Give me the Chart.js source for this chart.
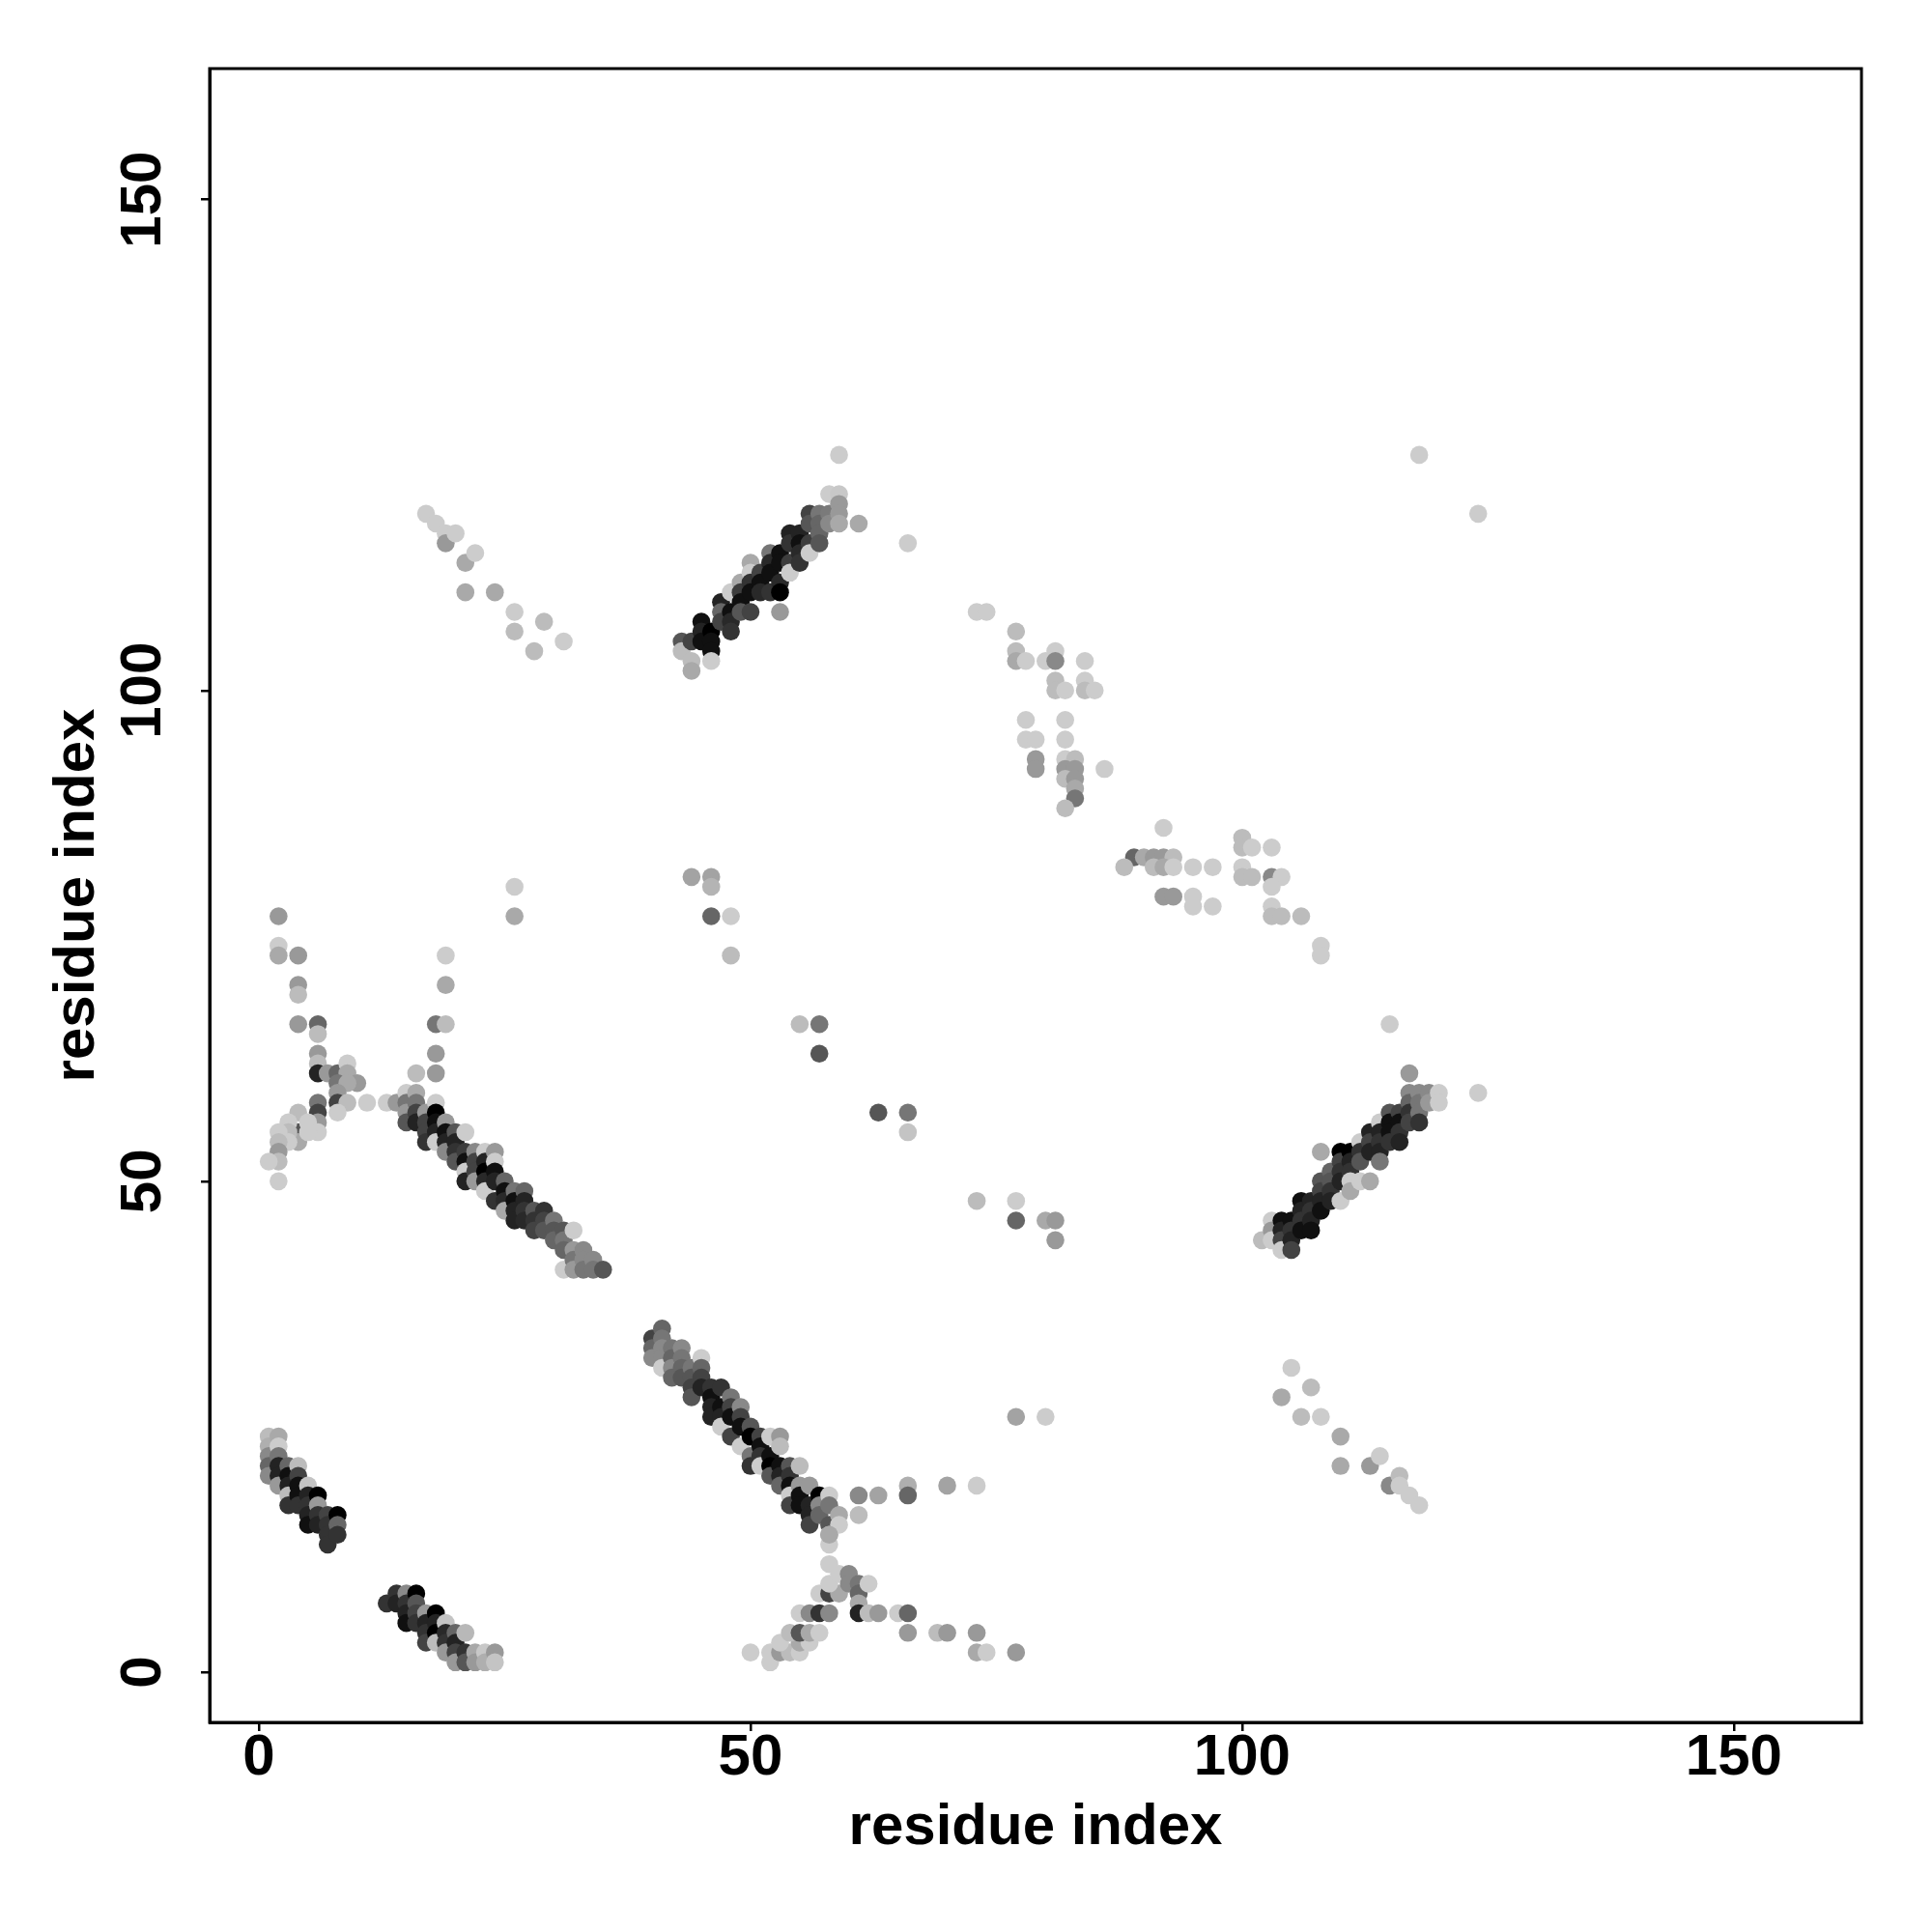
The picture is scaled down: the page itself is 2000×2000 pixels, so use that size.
<!DOCTYPE html>
<html><head><meta charset="utf-8">
<script src="https://cdn.jsdelivr.net/npm/chart.js@4.4.1/dist/chart.umd.min.js"></script>
<style>html,body{margin:0;padding:0;background:#fff}#wrap{width:2000px;height:2000px}</style>
</head><body><div id="wrap"><canvas id="c" width="2000" height="2000"></canvas></div>
<script>
// tick labels and titles
const axisTicks = [0, 50, 100, 150];
const axisTitle = 'residue index';

// contacts: [residue i, residue j, score 0..1 (1 = darkest)]
const bandA = [[1,24,0.08],[1,23,0.14],[1,22,0.33],[1,21,0.5],[1,20,0.33],
 [2,24,0.17],[2,23,0],[2,22,0.42],[2,21,0.83],[2,20,0.83],[2,19,0.25],
 [3,21,0.5],[3,20,0.92],[3,19,0.83],[3,18,0.08],[3,17,0.75],
 [4,21,0.08],[4,20,0.67],[4,19,0.92],[4,18,0.92],[4,17,0.75],
 [5,19,0.04],[5,18,0.83],[5,17,0.75],[5,16,0.83],[5,15,0.92],
 [6,18,1],[6,17,0.25],[6,16,0.75],[6,15,0.83],
 [7,16,0.67],[7,15,0.75],[7,14,0.75],[7,13,0.75],
 [8,16,1],[8,15,0.5],[8,14,0.75]];

const bandB = [[13,7,0.75],[14,8,0.75],[14,7,0.83],
 [15,8,0.33],[15,7,0.75],[15,6,0.83],[15,5,0.92],
 [16,8,1],[16,7,0.58],[16,6,0.67],[16,5,0.75],
 [17,6,0.25],[17,5,0.83],[17,4,0.75],[17,3,0.67],
 [18,6,1],[18,5,0.83],[18,4,1],[18,3,0.08],
 [19,5,0.04],[19,4,0.8],[19,3,0.75],[19,2,0.25],
 [20,4,0.5],[20,3,0.83],[20,2,0.67],[20,1,0.25],
 [21,4,0.1],[21,2,0.75],[21,1,0.58],
 [22,2,0.17],[22,1,0.25],[23,2,0.02],[23,1,0.14],[24,2,0.25],[24,1,0.04]];

const leftCluster = [[2,77,0.25],[2,74,0],[2,73,0.17],[4,73,0.25],[4,70,0.25],[4,69,0.08],
 [4,66,0.25],[6,66,0.5],[6,65,0.08],[6,63,0.25],[6,62,0.08],[6,61,0.83],[7,61,0.25],[8,61,0.5],
 [9,62,0],[9,61,0.17],[10,60,0.25],[8,60,0.42],[9,60,0.17],[8,59,0.25],[8,58,0.67],[9,58,0.08],
 [8,57,0],[11,58,0],[6,58,0.42],[6,57,0.67],[6,56,0.25],[6,55,0],[4,57,0.08],[4,55,0.58],
 [4,54,0.17],[3,56,0],[5,56,0],[5,55,0],[3,55,0.08],[3,54,0],[2,55,0],[2,54,0.08],[2,53,0.25],
 [2,52,0.08],[1,52,0],[2,50,0]];

const upperLeftCol = [[19,73,0],[19,70,0.17],[18,66,0.42],[19,66,0.08],[18,63,0.25],[18,61,0.25],
 [16,61,0.08],[26,80,0],[26,77,0.17]];

const bandC = [[13,58,0],[14,58,0.25],
 [15,59,0],[15,58,0.42],[15,57,0.25],[15,56,0.58],
 [16,59,0.17],[16,58,0.42],[16,57,0.67],[16,56,0.83],
 [17,57,0.25],[17,56,0.67],[17,55,0.67],[17,54,0.75],
 [18,58,0],[18,57,1],[18,56,0.92],[18,55,0.83],[18,54,0],
 [19,56,0.25],[19,55,0.92],[19,54,0.83],[19,53,0.33],
 [20,55,0.58],[20,54,0.83],[20,53,0.75],[20,52,0.58],
 [21,55,0],[21,53,0.7],[21,52,0.92],[21,51,0],[21,50,0.83],
 [22,53,0.33],[22,52,0.67],[22,51,0.67],[22,50,0.25],
 [23,53,0],[23,52,0.83],[23,51,1],[23,50,0.8],[23,49,0],
 [24,53,0.25],[24,52,0],[24,51,0.92],[24,50,0.83],[24,48,0.75],
 [25,50,0.5],[25,49,0.92],[25,48,0.8],[25,47,0.17],
 [26,49,0.42],[26,48,0.92],[26,47,0.83],[26,46,0.83],
 [27,49,0.5],[27,48,0.83],[27,47,0.75],[27,46,0.8],
 [28,47,0.58],[28,46,0.75],[28,45,0.67],
 [29,47,0.75],[29,46,0.67],[29,45,0.58],
 [30,46,0.42],[30,45,0.58],[30,44,0.5],
 [31,45,0.58],[31,44,0.42],[31,43,0.5],[31,41,0],
 [32,45,0],[32,43,0.25],[32,42,0.42],[32,41,0.25],
 [33,43,0.33],[33,42,0.33],[33,41,0.42],
 [34,42,0.33],[34,41,0.42],[35,41,0.58]];

const bandD = [[40,34,0.67],[40,33,0.5],[40,32,0.33],
 [41,35,0.5],[41,34,0.42],[41,33,0.33],[41,32,0.33],[41,31,0],
 [42,33,0.42],[42,32,0.5],[42,31,0.33],[42,30,0.5],
 [43,33,0.33],[43,32,0.42],[43,31,0.5],[43,30,0.58],
 [44,31,0.42],[44,30,0.58],[44,29,0.67],[44,28,0.58],
 [45,32,0],[45,31,0.5],[45,30,0.67],[45,29,0.83],
 [46,29,0.75],[46,28,0.92],[46,27,0.83],[46,26,0.83],
 [47,29,0.75],[47,27,0.92],[47,26,0.83],[47,25,0],
 [48,28,0.42],[48,27,0.67],[48,26,0.92],[48,24,0.67],
 [49,27,0.33],[49,26,0.67],[49,25,0.92],[49,23,0],
 [50,25,0.58],[50,24,1],[50,22,0.42],[50,21,0.75],
 [51,24,0.67],[51,23,0.92],[51,22,0.75],[51,21,0],
 [52,24,0],[52,22,0.92],[52,21,1],[52,20,0.58],
 [53,24,0.25],[53,23,0.08],[53,21,0.92],[53,20,0.83],[53,19,0.5],
 [54,21,0.58],[54,20,0.75],[54,19,0.92],[54,18,0],[54,17,0.67],
 [55,21,0.08],[55,19,0.25],[55,18,0.92],[55,17,0.92],
 [56,19,0.25],[56,17,0.83],[56,16,0.83],[56,15,0.67],
 [57,18,1],[57,17,0.33],[57,16,0.5],
 [58,18,0],[58,17,0.42],[58,15,0.58],[58,14,0.17],
 [59,16,0.17],[59,15,0]];

const lowerCross = [[50,2,0],[52,1,0],[52,2,0],[53,2,0.25],[54,2,0.08],[55,2,0],
 [53,3,0],[55,3,0.17],[56,3,0],[54,4,0.08],[55,4,0.58],[56,4,0.17],[57,4,0],
 [55,6,0],[56,6,0.33],[57,6,0.75],[58,6,0.33],[57,8,0],[58,8,0.67],[59,8,0.17],
 [58,9,0],[59,10,0],[60,10,0.33],[60,9,0.33],[61,9,0.42],[61,8,0.5],[62,9,0],[61,7,0.17],
 [58,11,0],[58,13,0],[58,14,0.17],
 [61,6,0.83],[62,6,0.08],[63,6,0.25],[65,6,0],[66,6,0.5],
 [66,4,0.25],[69,4,0.08],[70,4,0.25],[73,4,0.25],[73,2,0.17],[74,2,0],[77,2,0.25],
 [61,16,0.08],[61,18,0.33],[63,18,0.2],[66,19,0.14],[66,18,0.5],[70,19,0.2],[73,19,0],
 [77,26,0.2],[80,26,0]];

const middleSparse = [[44,81,0.2],[46,81,0.2],[46,80,0.12],[46,77,0.5],[48,77,0],[48,73,0.08],
 [55,66,0.08],[57,66,0.42],[57,63,0.58],[63,57,0.58],[66,57,0.42],[66,55,0.04],
 [73,48,0.08],[77,48,0],[77,46,0.5],[80,46,0.17],[81,46,0.25],[81,44,0.25]];

const upperLeftArc = [[17,118,0],[18,117,0],[19,116,0],[19,115,0.25],[20,116,0],[21,113,0.17],
 [22,114,0],[21,110,0.17],[24,110,0.17],[26,108,0],[26,106,0.08],[29,107,0.08],[28,104,0.08],[31,105,0]];

const bandE = [[43,105,0.58],[43,104,0.08],
 [44,105,0.67],[44,103,0.08],[44,102,0.17],
 [45,107,0.92],[45,106,0.83],[45,105,0.92],
 [46,106,1],[46,105,0.92],[46,104,0.92],[46,103,0],
 [47,109,0.83],[47,108,0.5],[47,107,0.67],
 [48,110,0],[48,108,0.92],[48,107,0.8],[48,106,0.75],
 [49,111,0.17],[49,110,0.7],[49,109,0.92],[49,108,0.58],
 [50,113,0.17],[50,112,0],[50,111,0.75],[50,110,0.92],[50,108,0.67],
 [51,112,0.67],[51,111,0.92],[51,110,0.8],
 [52,114,0.42],[52,113,0.8],[52,112,0.92],[52,110,0.75],
 [53,114,0.92],[53,113,0.92],[53,111,0.8],[53,110,1],[53,108,0.25],
 [54,116,0.83],[54,115,0.75],[54,113,0.7],[54,112,0],
 [55,116,0.83],[55,115,0.92],[55,114,0.8],[55,113,0.75],
 [56,118,0.67],[56,117,0.58],[56,115,0.7],[56,114,0],
 [57,118,0.42],[57,117,0.5],[57,116,0.5],[57,115,0.58],
 [58,120,0],[58,118,0.4],[58,117,0.33],
 [59,124,0],[59,120,0.02],[59,119,0.25],[59,118,0.25],[59,117,0.17],
 [61,117,0.17],[66,115,0]];

const rightArc = [[73,108,0],[74,108,0],[77,106,0.08],[77,104,0.08],[77,103,0.17],[78,103,0],
 [80,103,0],[81,104,0],[81,103,0.33],[84,103,0],[84,101,0],[84,100,0.08],[85,100,0],
 [81,101,0.08],[81,100,0.08],[82,100,0],[78,97,0],[82,97,0],[78,95,0],[79,95,0],[82,95,0],
 [79,93,0.25],[79,92,0.25],[82,93,0],[83,93,0.08],[82,92,0.25],[83,92,0.25],[82,91,0.08],
 [83,91,0.25],[83,90,0.17],[83,89,0.42],[82,88,0.08],[86,92,0],[92,86,0],
 [89,83,0.5],[90,83,0.17],[91,83,0.25],[92,83,0.25],[93,83,0.08],
 [88,82,0.08],[91,82,0.08],[92,82,0.17],[93,82,0],[95,82,0],[97,82,0],
 [92,79,0.25],[93,79,0.25],[95,79,0],[95,78,0],[97,78,0],
 [100,85,0.08],[100,84,0.08],[101,84,0],[103,84,0],
 [100,82,0],[100,81,0.08],[101,81,0.08],[103,81,0.33],[104,81,0],
 [103,80,0],[103,78,0],[103,77,0.08],[104,77,0.08],[106,77,0.08],[108,74,0],[108,73,0]];

const bandF = [[102,44,0.08],
 [103,46,0],[103,45,0.25],[103,44,0],
 [104,46,0.92],[104,45,0.83],[104,44,0.67],[104,43,0],
 [105,46,0.92],[105,45,0.75],[105,44,0.83],[105,43,0.67],
 [106,48,0.92],[106,47,0.83],[106,46,0.75],[106,45,0.92],
 [107,48,0.83],[107,47,0.75],[107,46,0.83],[107,45,0.92],
 [108,53,0.17],[108,50,0.58],[108,49,0.67],[108,48,0.83],[108,47,0.92],
 [109,51,0.5],[109,50,0.58],[109,49,0.75],[109,48,0.83],
 [110,53,1],[110,52,0.67],[110,51,0.75],[110,50,0.83],[110,48,0],
 [111,53,1],[111,52,0.83],[111,51,0.75],[111,50,0],[111,49,0.17],
 [112,54,0],[112,53,0.75],[112,52,0.58],[112,50,0],
 [113,55,0.83],[113,54,0.67],[113,53,0.83],[113,50,0.17],
 [114,56,0],[114,55,0.83],[114,54,0.75],[114,53,0.83],[114,52,0.42],
 [115,57,0.58],[115,56,0.92],[115,55,0.92],[115,54,0.75],
 [116,57,0.67],[116,56,0.92],[116,55,0.75],[116,54,0.83],
 [117,61,0.25],[117,59,0.33],[117,58,0.5],[117,57,0.75],[117,56,0.67],
 [118,59,0.33],[118,58,0.42],[118,57,0.42],[118,56,0.75],
 [119,59,0.33],[119,58,0.25],[120,59,0],[120,58,0],[124,59,0],[115,66,0]];

const lowerRightArc = [[105,31,0],[107,29,0.08],[104,28,0.17],[106,26,0.08],[108,26,0],[110,24,0.17],
 [110,21,0.17],[113,21,0.25],[114,22,0],[115,19,0.33],[116,20,0.08],[116,19,0],[117,18,0],[118,17,0]];

const topRight = [[118,124,0],[124,118,0]];

const blocks = [leftCluster, upperLeftCol, upperLeftArc, middleSparse, rightArc, lowerCross,
  lowerRightArc, topRight, bandA, bandB, bandC, bandD, bandE, bandF];

function shade(p) { const g = Math.round(204 * (1 - p)); return 'rgb(' + g + ',' + g + ',' + g + ')'; }
const FONT = "'Liberation Sans', Arial, Helvetica, sans-serif";

const framePlugin = {
  id: 'frame',
  afterDatasetsDraw(chart) {
    const a = chart.chartArea, ctx = chart.ctx;
    ctx.save();
    ctx.strokeStyle = '#000';
    ctx.lineWidth = 3;
    ctx.strokeRect(a.left, a.top, a.right - a.left, a.bottom - a.top);
    ctx.restore();
  }
};

const colorFn = ctx => shade(ctx.raw ? ctx.raw.p : 0);

new Chart(document.getElementById('c'), {
  type: 'scatter',
  data: {
    datasets: blocks.map(b => ({
      data: b.map(([x, y, p]) => ({x, y, p})),
      pointRadius: 9.3, pointHoverRadius: 9.3, pointBorderWidth: 0, borderWidth: 0,
      backgroundColor: colorFn, pointBackgroundColor: colorFn, borderColor: colorFn
    }))
  },
  options: {
    responsive: false, animation: false, devicePixelRatio: 1, events: [],
    layout: {padding: {top: 71, right: 73, bottom: 0, left: 0}},
    plugins: {legend: {display: false}, tooltip: {enabled: false}},
    scales: {
      x: {
        type: 'linear', position: 'bottom', min: -5.01, max: 162.98,
        afterBuildTicks: s => { s.ticks = axisTicks.map(v => ({value: v})); },
        afterFit: s => { s.height = 217; },
        ticks: {color: '#000', font: {family: FONT, weight: 'bold', size: 60}, padding: -8, maxRotation: 0, autoSkip: false},
        grid: {display: true, drawOnChartArea: false, drawTicks: true, tickLength: 9, color: '#000', lineWidth: 2.5},
        border: {display: true, color: '#000', width: 3},
        title: {display: true, text: axisTitle, color: '#000', font: {family: FONT, weight: 'bold', size: 60}, padding: {top: 0, bottom: 72}}
      },
      y: {
        type: 'linear', position: 'left', min: -5.12, max: 163.35,
        afterBuildTicks: s => { s.ticks = axisTicks.map(v => ({value: v})); },
        afterFit: s => { s.width = 217; },
        ticks: {color: '#000', font: {family: FONT, weight: 'bold', size: 60}, padding: 8, minRotation: 90, maxRotation: 90, crossAlign: 'center', autoSkip: false},
        grid: {display: true, drawOnChartArea: false, drawTicks: true, tickLength: 9, color: '#000', lineWidth: 2.5},
        border: {display: true, color: '#000', width: 3},
        title: {display: true, text: axisTitle, color: '#000', font: {family: FONT, weight: 'bold', size: 60}, padding: {top: 44, bottom: 0}}
      }
    }
  },
  plugins: [framePlugin]
});
</script>
</body></html>
